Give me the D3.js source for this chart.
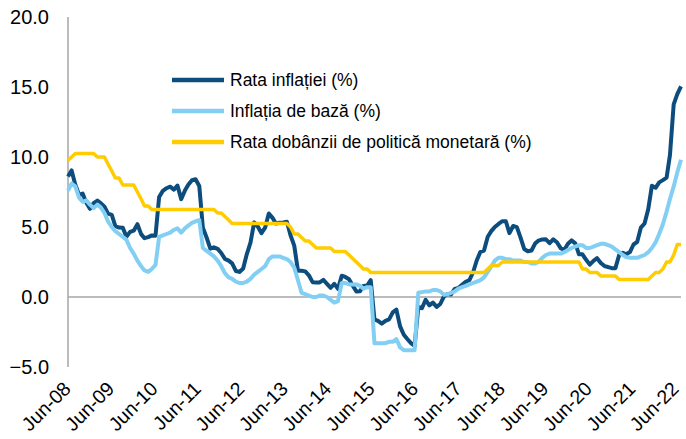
<!DOCTYPE html>
<html>
<head>
<meta charset="utf-8">
<script src="https://cdn.jsdelivr.net/npm/d3@7"></script>
<style>
  body { margin: 0; background: #fff; }
  svg { display: block; font-family: Arial, "Liberation Sans", sans-serif; }
</style>
</head>
<body>
<div id="chart"></div>
<script>
//////////////////////////// data ////////////////////////////////////////

// monthly, Jun-08 .. Jun-22
const startMonth = new Date(Date.UTC(2008, 5, 1));
const endMonth = new Date(Date.UTC(2022, 5, 1));

const seriesNames = [
  "Rata inflației (%)",
  "Inflația de bază (%)",
  "Rata dobânzii de politică monetară (%)"
];

const inflatie = [
  8.61, 9.04, 8.02, 7.30, 7.39, 6.74, 6.30,                              // 2008 (Jun-Dec)
  6.71, 6.89, 6.71, 6.45, 5.95, 5.86, 5.06, 4.96, 4.94, 4.30, 4.65, 4.74, // 2009
  5.20, 4.49, 4.20, 4.28, 4.40, 4.38, 7.14, 7.58, 7.77, 7.88, 7.67, 7.96, // 2010
  6.99, 7.60, 8.01, 8.34, 8.41, 7.93, 4.94, 4.25, 3.45, 3.55, 3.44, 3.14, // 2011
  2.72, 2.60, 2.40, 1.86, 1.79, 2.04, 3.05, 3.88, 5.33, 5.03, 4.56, 4.95, // 2012
  5.97, 5.65, 5.25, 5.30, 5.32, 5.37, 4.41, 3.67, 1.88, 1.88, 1.83, 1.55, // 2013
  1.06, 1.04, 1.04, 1.22, 0.94, 0.66, 0.94, 0.58, 1.52, 1.43, 1.27, 0.83, // 2014
  0.40, 0.41, 0.79, 0.82, 1.20, -1.6, -1.7, -1.9, -1.7, -1.6, -1.1, -0.9, // 2015
  -2.1, -2.7, -3.0, -3.3, -3.5, -0.7, -0.8, -0.2, -0.6, -0.4, -0.7, -0.5, // 2016
  0.05, 0.22, 0.18, 0.58, 0.64, 0.88, 1.09, 1.20, 1.77, 2.61, 3.23, 3.32, // 2017
  4.30, 4.72, 5.00, 5.22, 5.41, 5.41, 4.56, 5.07, 4.99, 4.26, 3.43, 3.27, // 2018
  3.32, 3.83, 4.03, 4.11, 4.12, 3.84, 4.12, 3.91, 3.49, 3.36, 3.80, 4.04, // 2019
  3.83, 3.05, 3.05, 2.66, 2.31, 2.58, 2.77, 2.43, 2.21, 2.14, 2.06, 2.06, // 2020
  3.00, 3.16, 3.05, 3.21, 3.75, 3.94, 4.95, 5.25, 6.29, 7.94, 7.80, 8.19, // 2021
  8.35, 8.53, 10.15, 13.76, 14.49, 15.05                                  // 2022 (Jan-Jun)
];

const inflatieBaza = [
  7.6, 8.1, 7.9, 7.1, 6.8, 6.9, 6.6,                          // 2008
  6.35, 6.6, 6.4, 6.0, 5.4, 5.0, 4.7, 4.5, 4.3, 4.1, 3.5, 3.1, // 2009
  2.6, 2.2, 1.9, 1.8, 2.0, 2.3, 4.3, 4.4, 4.5, 4.6, 4.8, 4.9,  // 2010
  4.6, 4.9, 5.1, 5.3, 5.4, 5.5, 3.5, 3.3, 3.1, 2.9, 2.6, 2.2,  // 2011
  1.7, 1.4, 1.3, 1.1, 1.0, 1.0, 1.1, 1.3, 1.6, 1.8, 2.0, 2.2,  // 2012
  2.7, 2.9, 2.9, 2.9, 2.8, 2.7, 2.5, 2.1, 1.2, 0.3, 0.2, 0.1,  // 2013
  0.0, 0.0, 0.1, 0.1, 0.0, -0.2, -0.4, -0.3, 1.0, 1.0, 0.9, 0.9, // 2014
  0.9, 0.8, 0.6, 0.7, 0.7, -3.3, -3.3, -3.3, -3.3, -3.2, -3.2, -3.0, // 2015
  -3.6, -3.8, -3.8, -3.8, -3.8, 0.3, 0.35, 0.4, 0.4, 0.5, 0.5, 0.4, // 2016
  0.15, 0.2, 0.3, 0.4, 0.6, 0.7, 0.8, 0.9, 1.0, 1.1, 1.2, 1.4, // 2017
  1.8, 2.2, 2.6, 2.8, 2.8, 2.7, 2.7, 2.6, 2.6, 2.6, 2.5, 2.5,  // 2018
  2.4, 2.4, 2.5, 2.8, 3.0, 3.1, 3.1, 3.1, 3.1, 3.2, 3.35, 3.5, // 2019
  3.6, 3.7, 3.7, 3.5, 3.5, 3.6, 3.7, 3.8, 3.8, 3.7, 3.6, 3.4,  // 2020
  3.2, 3.0, 2.85, 2.8, 2.8, 2.8, 2.9, 3.0, 3.2, 3.5, 3.9, 4.5, // 2021
  5.2, 6.1, 7.0, 7.9, 8.9, 9.8                                 // 2022
];

const dobanda = [
  9.75, 10.0, 10.25, 10.25, 10.25, 10.25, 10.25,                      // 2008
  10.25, 10.0, 10.0, 10.0, 9.5, 9.0, 8.5, 8.5, 8.0, 8.0, 8.0, 8.0,    // 2009
  7.5, 7.0, 6.5, 6.5, 6.25, 6.25, 6.25, 6.25, 6.25, 6.25, 6.25, 6.25, // 2010
  6.25, 6.25, 6.25, 6.25, 6.25, 6.25, 6.25, 6.25, 6.25, 6.25, 6.0, 6.0, // 2011
  5.75, 5.5, 5.25, 5.25, 5.25, 5.25, 5.25, 5.25, 5.25, 5.25, 5.25, 5.25, // 2012
  5.25, 5.25, 5.25, 5.25, 5.25, 5.25, 5.0, 4.5, 4.5, 4.25, 4.0, 4.0,  // 2013
  3.75, 3.5, 3.5, 3.5, 3.5, 3.5, 3.25, 3.25, 3.25, 3.25, 3.0, 2.75,   // 2014
  2.5, 2.25, 2.0, 2.0, 1.75, 1.75, 1.75, 1.75, 1.75, 1.75, 1.75, 1.75, // 2015
  1.75, 1.75, 1.75, 1.75, 1.75, 1.75, 1.75, 1.75, 1.75, 1.75, 1.75, 1.75, // 2016
  1.75, 1.75, 1.75, 1.75, 1.75, 1.75, 1.75, 1.75, 1.75, 1.75, 1.75, 1.75, // 2017
  2.0, 2.25, 2.25, 2.25, 2.5, 2.5, 2.5, 2.5, 2.5, 2.5, 2.5, 2.5,      // 2018
  2.5, 2.5, 2.5, 2.5, 2.5, 2.5, 2.5, 2.5, 2.5, 2.5, 2.5, 2.5,         // 2019
  2.5, 2.5, 2.0, 2.0, 1.75, 1.75, 1.75, 1.5, 1.5, 1.5, 1.5, 1.5,      // 2020
  1.25, 1.25, 1.25, 1.25, 1.25, 1.25, 1.25, 1.25, 1.25, 1.5, 1.75, 1.75, // 2021
  2.0, 2.5, 2.5, 3.0, 3.75, 3.75                                      // 2022
];

const yTicks = [-5, 0, 5, 10, 15, 20];
const xTickLabels = ["Jun-08", "Jun-09", "Jun-10", "Jun-11", "Jun-12", "Jun-13", "Jun-14",
  "Jun-15", "Jun-16", "Jun-17", "Jun-18", "Jun-19", "Jun-20", "Jun-21", "Jun-22"];

const colors = ["#0D4D7D", "#82CFF3", "#FFCC00"];

//////////////////////////// setup ///////////////////////////////////////

const width = 686;
const height = 439;
const margin = { top: 17, right: 5, bottom: 72, left: 68 };

const months = d3.utcMonth.range(startMonth, d3.utcMonth.offset(endMonth, 1));

const svg = d3.select("#chart").append("svg")
  .attr("width", width)
  .attr("height", height);

//////////////////////////// scales //////////////////////////////////////

const xScale = d3.scaleUtc()
  .domain([startMonth, endMonth])
  .range([margin.left, width - margin.right]);

const yScale = d3.scaleLinear()
  .domain([-5, 20])
  .range([height - margin.bottom, margin.top]);

// labels sit a bit tighter than the data
const labelScale = xScale.copy().range([72, 680]);

//////////////////////////// axes ////////////////////////////////////////

// y axis
svg.append("line")
  .attr("x1", xScale(startMonth)).attr("x2", xScale(startMonth))
  .attr("y1", yScale(20)).attr("y2", yScale(-5))
  .attr("stroke", "#a6a6a6").attr("stroke-width", 1.5);

svg.append("g")
  .selectAll("text")
  .data(yTicks)
  .join("text")
  .attr("x", 49)
  .attr("y", (d) => yScale(d))
  .attr("dy", "0.35em")
  .attr("text-anchor", "end")
  .attr("font-size", 20)
  .attr("fill", "#000")
  .text((d) => d3.format(".1f")(d));

// zero line
svg.append("line")
  .attr("x1", xScale(startMonth)).attr("x2", xScale(endMonth))
  .attr("y1", yScale(0)).attr("y2", yScale(0))
  .attr("stroke", "#a6a6a6").attr("stroke-width", 1.5);

// x labels, rotated
const xTickDates = xTickLabels.map((d, i) => d3.utcYear.offset(startMonth, i));
svg.append("g")
  .selectAll("text")
  .data(xTickLabels)
  .join("text")
  .attr("transform", (d, i) => `translate(${labelScale(xTickDates[i])},${yScale(-5) + 23}) rotate(-45)`)
  .attr("text-anchor", "end")
  .attr("font-size", 19.5)
  .attr("fill", "#000")
  .text((d) => d);

//////////////////////////// lines ///////////////////////////////////////

const allSeries = [inflatie, inflatieBaza, dobanda];
const widths = [4, 4, 3.5];

const line = d3.line()
  .x((d, i) => xScale(months[i]))
  .y((d) => yScale(d));

allSeries.forEach((s, k) => {
  svg.append("path")
    .datum(s)
    .attr("fill", "none")
    .attr("stroke", colors[k])
    .attr("stroke-width", widths[k])
    .attr("stroke-linejoin", "round")
    .attr("d", line);
});

//////////////////////////// legend //////////////////////////////////////

const legend = svg.append("g").attr("transform", "translate(172,80)");
const rows = legend.selectAll("g")
  .data(seriesNames)
  .join("g")
  .attr("transform", (d, i) => `translate(0,${i * 31})`);

rows.append("line")
  .attr("x1", 0).attr("x2", 52)
  .attr("stroke", (d, i) => colors[i])
  .attr("stroke-width", 4.5);

rows.append("text")
  .attr("x", 58)
  .attr("dy", "0.35em")
  .attr("font-size", 17.5)
  .attr("fill", "#000")
  .text((d) => d);
</script>
</body>
</html>
